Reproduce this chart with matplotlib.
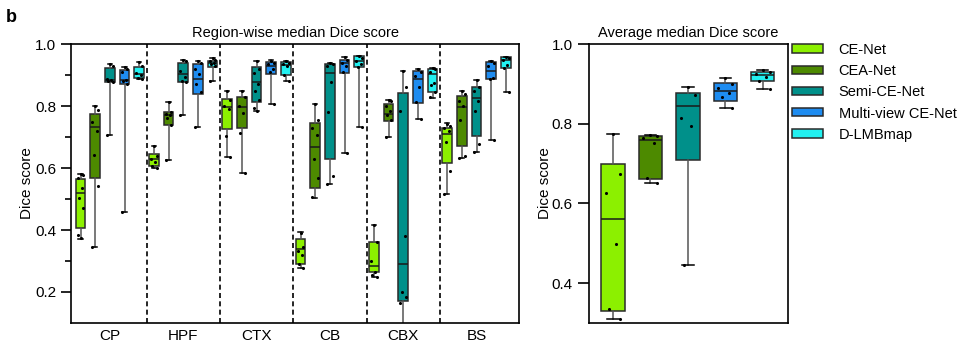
import numpy as np
import matplotlib.pyplot as plt
from matplotlib.patches import Patch

plt.rcParams['font.family'] = ['Liberation Sans', 'DejaVu Sans']
plt.rcParams['font.size'] = 10.5

models = ['CE-Net', 'CEA-Net', 'Semi-CE-Net', 'Multi-view CE-Net', 'D-LMBmap']
colors = ['#8cf000', '#4d8a00', '#00908a', '#1e8cf0', '#22f0f0']
regions = ['CP', 'HPF', 'CTX', 'CB', 'CBX', 'BS']

# (whislo, q1, median, q3, whishi) for each model
cp_stats = [(0.372, 0.405, 0.518, 0.565, 0.581),
            (0.344, 0.569, 0.732, 0.774, 0.800),
            (0.705, 0.878, 0.884, 0.924, 0.934),
            (0.457, 0.870, 0.884, 0.916, 0.926),
            (0.886, 0.891, 0.902, 0.925, 0.943)]
hpf_stats = [(0.599, 0.607, 0.628, 0.644, 0.672),
             (0.625, 0.739, 0.772, 0.782, 0.814),
             (0.772, 0.878, 0.903, 0.938, 0.948),
             (0.733, 0.838, 0.887, 0.934, 0.945),
             (0.881, 0.927, 0.940, 0.945, 0.955)]
ctx_stats = [(0.637, 0.725, 0.798, 0.823, 0.847),
             (0.584, 0.730, 0.798, 0.830, 0.849),
             (0.785, 0.813, 0.877, 0.926, 0.945),
             (0.807, 0.903, 0.929, 0.943, 0.948),
             (0.880, 0.899, 0.932, 0.941, 0.946)]
cb_stats = [(0.278, 0.290, 0.338, 0.372, 0.393),
            (0.503, 0.535, 0.668, 0.746, 0.805),
            (0.550, 0.628, 0.905, 0.935, 0.938),
            (0.649, 0.905, 0.940, 0.948, 0.957),
            (0.733, 0.925, 0.945, 0.960, 0.963)]
cbx_stats = [(0.247, 0.265, 0.283, 0.361, 0.416),
             (0.701, 0.751, 0.774, 0.805, 0.819),
             (0.050, 0.171, 0.290, 0.841, 0.914),
             (0.757, 0.811, 0.887, 0.914, 0.918),
             (0.827, 0.846, 0.903, 0.920, 0.924)]
bs_stats = [(0.515, 0.615, 0.709, 0.730, 0.744),
            (0.632, 0.671, 0.798, 0.833, 0.848),
            (0.652, 0.703, 0.825, 0.860, 0.884),
            (0.690, 0.886, 0.913, 0.942, 0.945),
            (0.846, 0.922, 0.948, 0.957, 0.959)]
avg_stats = [(0.310, 0.331, 0.562, 0.698, 0.775),
             (0.652, 0.662, 0.759, 0.769, 0.772),
             (0.446, 0.708, 0.844, 0.878, 0.891),
             (0.840, 0.858, 0.883, 0.901, 0.914),
             (0.888, 0.906, 0.922, 0.930, 0.934)]

# individual points
cp_pts = [[0.581, 0.578, 0.568, 0.534, 0.504, 0.471, 0.384, 0.373],
          [0.800, 0.787, 0.748, 0.719, 0.642, 0.543, 0.344],
          [0.935, 0.930, 0.886, 0.883, 0.881, 0.878, 0.705],
          [0.925, 0.920, 0.910, 0.885, 0.880, 0.872, 0.457],
          [0.943, 0.930, 0.905, 0.900, 0.892, 0.886]]
hpf_pts = [[0.672, 0.640, 0.628, 0.620, 0.605, 0.600],
           [0.814, 0.780, 0.775, 0.770, 0.760, 0.740, 0.625],
           [0.948, 0.945, 0.913, 0.895, 0.880, 0.878, 0.772],
           [0.945, 0.940, 0.919, 0.902, 0.870, 0.846, 0.733],
           [0.955, 0.950, 0.945, 0.940, 0.935, 0.930, 0.881]]
ctx_pts = [[0.847, 0.820, 0.800, 0.790, 0.704, 0.637],
           [0.849, 0.830, 0.800, 0.778, 0.712, 0.584],
           [0.945, 0.918, 0.905, 0.870, 0.850, 0.820, 0.795, 0.785],
           [0.945, 0.940, 0.935, 0.920, 0.910, 0.807],
           [0.945, 0.940, 0.935, 0.930, 0.900, 0.880]]
cb_pts = [[0.391, 0.346, 0.331, 0.319, 0.290, 0.278],
          [0.805, 0.755, 0.728, 0.705, 0.628, 0.569, 0.505],
          [0.938, 0.936, 0.930, 0.876, 0.782, 0.575, 0.550],
          [0.957, 0.950, 0.940, 0.930, 0.910, 0.649],
          [0.963, 0.955, 0.945, 0.935, 0.925, 0.733]]
cbx_pts = [[0.416, 0.360, 0.301, 0.265, 0.255, 0.247],
           [0.819, 0.815, 0.800, 0.785, 0.770, 0.755, 0.701],
           [0.914, 0.862, 0.784, 0.382, 0.201, 0.185, 0.164],
           [0.918, 0.911, 0.898, 0.860, 0.812, 0.757],
           [0.924, 0.920, 0.910, 0.875, 0.868, 0.845, 0.830]]
bs_pts = [[0.742, 0.735, 0.728, 0.720, 0.685, 0.591, 0.515],
          [0.848, 0.840, 0.817, 0.800, 0.755, 0.640, 0.632],
          [0.884, 0.860, 0.848, 0.816, 0.784, 0.676, 0.652],
          [0.945, 0.940, 0.930, 0.890, 0.886, 0.690],
          [0.959, 0.955, 0.950, 0.932, 0.922, 0.846]]
avg_pts = [[0.775, 0.675, 0.627, 0.497, 0.335, 0.310],
           [0.772, 0.770, 0.765, 0.752, 0.665, 0.652],
           [0.891, 0.872, 0.815, 0.794, 0.446],
           [0.914, 0.900, 0.889, 0.878, 0.866, 0.840],
           [0.934, 0.930, 0.925, 0.917, 0.906, 0.888]]

region_stats = [cp_stats, hpf_stats, ctx_stats, cb_stats, cbx_stats, bs_stats]
region_pts = [cp_pts, hpf_pts, ctx_pts, cb_pts, cbx_pts, bs_pts]

jit = [0.0, 0.3, -0.3, 0.15, -0.15, 0.3, -0.3, 0.0]


def draw_boxes(ax, stats, pts, pos, width, capw):
    st = [dict(whislo=s[0], q1=s[1], med=s[2], q3=s[3], whishi=s[4], fliers=[]) for s in stats]
    bp = ax.bxp(st, positions=pos, widths=width, capwidths=capw, patch_artist=True,
                showfliers=False, manage_ticks=False,
                boxprops=dict(edgecolor='#2a2a2a', linewidth=1.1),
                medianprops=dict(color='#1a1a1a', linewidth=1.1),
                whiskerprops=dict(color='#555555', linewidth=1.1),
                capprops=dict(color='black', linewidth=1.1))
    for patch, c in zip(bp['boxes'], colors):
        patch.set_facecolor(c)
    for p, vals in zip(pos, pts):
        xs = [p + jit[k % len(jit)] * width for k in range(len(vals))]
        ax.scatter(xs, vals, s=5, color='black', zorder=4, linewidths=0)


fig = plt.figure(figsize=(9.66, 3.54), dpi=100)
ax1 = fig.add_axes([0.0735, 0.0876, 0.4638, 0.788])
ax2 = fig.add_axes([0.6097, 0.0876, 0.206, 0.788])

for i in range(len(regions)):
    pos = [i + (j - 2) * 0.2 for j in range(len(models))]
    draw_boxes(ax1, region_stats[i], region_pts[i], pos, 0.13, 0.06)
for i in range(len(regions) - 1):
    ax1.axvline(i + 0.5, color='black', linestyle=(0, (3, 2)), linewidth=1.2)

ax1.set_xlim(-0.53, 5.58)
ax1.set_ylim(0.1, 1.0)
ax1.set_xticks(range(len(regions)))
ax1.set_xticklabels(regions, fontsize=11)
ax1.tick_params(axis='x', length=0, pad=4)
ax1.set_yticks([0.2, 0.4, 0.6, 0.8, 1.0])
ax1.set_yticks([0.3, 0.5, 0.7, 0.9], minor=True)
ax1.tick_params(axis='y', which='major', length=7, width=1.2, labelsize=11)
ax1.tick_params(axis='y', which='minor', length=4, width=1.2)
ax1.set_ylabel('Dice score', labelpad=1, fontsize=11)
ax1.set_title('Region-wise median Dice score', fontsize=10.5, pad=5)

pos2 = list(range(len(models)))
draw_boxes(ax2, avg_stats, avg_pts, pos2, 0.62, 0.3)
ax2.set_xlim(-0.64, 4.67)
ax2.set_ylim(0.3, 1.0)
ax2.set_xticks([])
ax2.set_yticks([0.4, 0.6, 0.8, 1.0])
ax2.tick_params(axis='y', length=8, width=1.2, labelsize=11)
ax2.set_ylabel('Dice score', labelpad=0, fontsize=11)
ax2.set_title('Average median Dice score', fontsize=10.5, pad=5)

for ax in (ax1, ax2):
    for sp in ax.spines.values():
        sp.set_linewidth(1.2)

handles = [Patch(facecolor=c, edgecolor='#2a2a2a', linewidth=1.1) for c in colors]
ax2.legend(handles, models, loc='upper left', bbox_to_anchor=(1.02, 1.005),
           frameon=False, borderaxespad=0, borderpad=0, handlelength=2.1,
           handleheight=0.5, handletextpad=1.1, labelspacing=0.5, fontsize=10.5)

fig.text(0.006, 0.975, 'b', fontsize=13, fontweight='bold', va='top')

fig.savefig('out.png', dpi=100)
